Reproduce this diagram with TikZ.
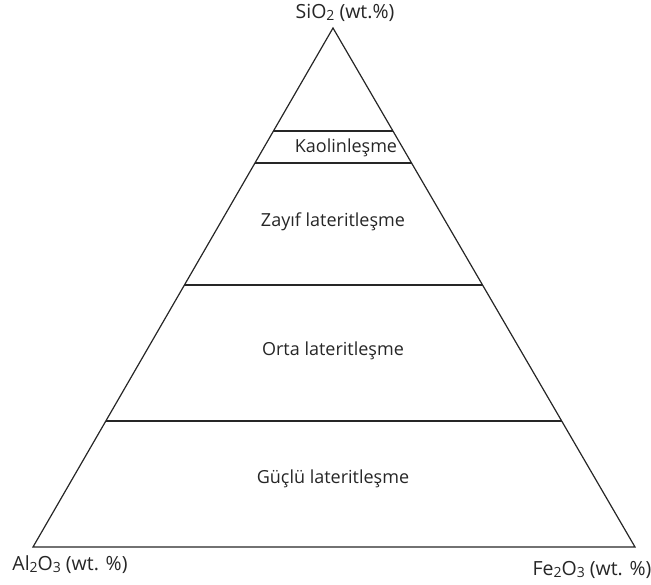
\documentclass[tikz,border=0pt]{standalone}
\usepackage{fontspec}
\setmainfont{Open Sans}
\newcommand{\sbs}[1]{\raisebox{-0.15ex}{\fontsize{14}{14}\selectfont #1}}
\begin{document}
\begin{tikzpicture}[x=1pt,y=-1pt,
  edge/.style={line width=1.2pt, black!85},
  lbl/.style={font=\fontsize{18}{20}\selectfont, text=black!85, inner sep=0pt},
  clbl/.style={font=\fontsize{19.5}{21}\selectfont, text=black!85, inner sep=0pt}]
\useasboundingbox (0,0) rectangle (651,585);
\coordinate (A) at (333,28);
\coordinate (L) at (33,547);
\coordinate (R) at (635,547);
\draw[edge, line join=miter] (A) -- (L) -- (R) -- cycle;
% horizontal lines
\foreach \y/\n in {131/a,163/b,285/c,421/d}{
  \path (A) -- (L) coordinate[pos={(\y-28)/519}] (l\n);
  \path (A) -- (R) coordinate[pos={(\y-28)/519}] (r\n);
  \draw[edge] (l\n) -- (r\n);
}
\node[clbl] (si) at (345,13) {SiO\sbs{2} (wt.\%)};
\node[clbl] (al) at (70,565) {Al\sbs{2}O\sbs{3} (wt. \%)};
\node[clbl] (fe) at (592,570) {Fe\sbs{2}O\sbs{3} (wt. \%)};
\node[lbl] (k) at (346,148) {Kaolinleşme};
\node[lbl] (z) at (333,222) {Zayıf lateritleşme};
\node[lbl] (o) at (333,351) {Orta lateritleşme};
\node[lbl] (g) at (333,479) {Güçlü lateritleşme};
\end{tikzpicture}
\end{document}
